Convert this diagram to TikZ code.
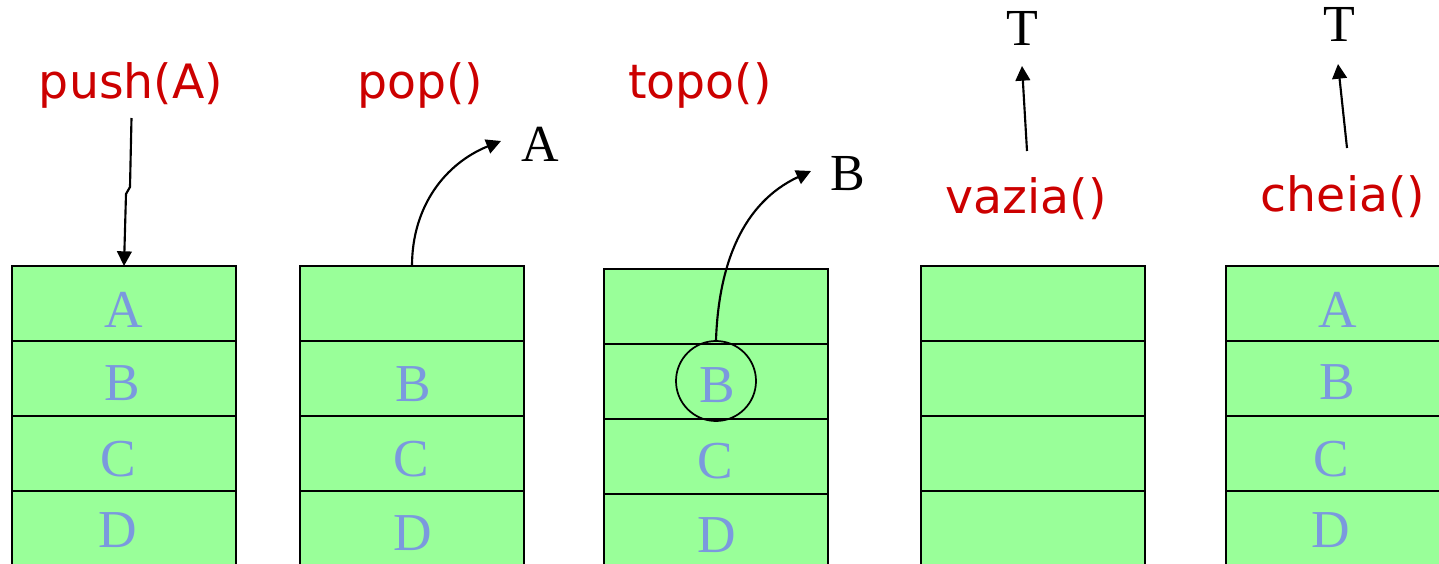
\documentclass[tikz,border=0pt]{standalone}
\usepackage{fontspec}
\setmainfont{Liberation Serif}
\newfontfamily\opfont{DejaVu Sans}
\usetikzlibrary{arrows.meta}
\definecolor{cellgreen}{RGB}{153,255,153}
\definecolor{valblue}{RGB}{123,153,222}
\definecolor{opred}{RGB}{204,0,0}
\begin{document}
\begin{tikzpicture}[x=0.75pt,y=-0.75pt,
  cell/.style={draw=black,fill=cellgreen,line width=1.6pt,minimum width=168pt,minimum height=56.25pt,inner sep=0pt,outer sep=0pt},
  val/.style={text=valblue,font=\fontsize{40}{40}\selectfont,inner sep=0pt,anchor=base},
  op/.style={text=opred,font=\opfont\fontsize{35.5}{35.5}\selectfont,inner sep=0pt,anchor=base},
  res/.style={text=black,font=\fontsize{39}{39}\selectfont,inner sep=0pt,anchor=base},
  arr/.style={draw=black,line width=1.6pt,-{Triangle[length=11pt,width=11pt]}}]
\useasboundingbox (0,0) rectangle (1439,564);
\clip (0,0) rectangle (1439,564);

% stack 1: push(A)
\node[cell] (s1a) at (124,303.5) {};
\node[cell] (s1b) at (124,378.5) {};
\node[cell] (s1c) at (124,453.5) {};
\node[cell] (s1d) at (124,528.5) {};
\node[val] (v1a) at (124,327) {A};
\node[val] (v1b) at (122,400) {B};
\node[val] (v1c) at (118,476) {C};
\node[val] (v1d) at (118,547) {D};
\node[op] (push) at (131,98) {push(A)};
\coordinate (pushstart) at (131.5,118);
\draw[arr] (pushstart) -- (130,187) -- (126,194) -- (s1a.north);

% stack 2: pop()
\node[cell] (s2a) at (412,303.5) {};
\node[cell] (s2b) at (412,378.5) {};
\node[cell] (s2c) at (412,453.5) {};
\node[cell] (s2d) at (412,528.5) {};
\node[val] (v2b) at (413,401) {B};
\node[val] (v2c) at (411,476) {C};
\node[val] (v2d) at (413,550) {D};
\node[op] (pop) at (420,98) {pop()};
\node[res] (resA) at (540,161) {A};
\coordinate (popend) at (501,141);
\draw[arr] (s2a.north) to[out=90,in=202] (popend);

% stack 3: topo()
\node[cell] (s3a) at (716,306.5) {};
\node[cell] (s3b) at (716,381.5) {};
\node[cell] (s3c) at (716,456.5) {};
\node[cell] (s3d) at (716,531.5) {};
\node[val] (v3b) at (717,402) {B};
\node[val] (v3c) at (715,478) {C};
\node[val] (v3d) at (717,552) {D};
\node[draw=black,line width=1.3pt,circle,minimum size=60pt,inner sep=0pt] (ring) at (716,381) {};
\node[op] (topo) at (700,98) {topo()};
\node[res] (resB) at (848,190) {B};
\coordinate (topoend) at (811,171);
\draw[arr] (ring.north) to[out=88,in=205] (topoend);

% stack 4: vazia()
\node[cell] (s4a) at (1033,303.5) {};
\node[cell] (s4b) at (1033,378.5) {};
\node[cell] (s4c) at (1033,453.5) {};
\node[cell] (s4d) at (1033,528.5) {};
\node[op] (vazia) at (1026,213) {vazia()};
\node[res] (resT1) at (1022,45) {T};
\coordinate (vaziastart) at (1027,151);
\coordinate (vaziaend) at (1022,66);
\draw[arr] (vaziastart) -- (vaziaend);

% stack 5: cheia()
\node[cell] (s5a) at (1338,303.5) {};
\node[cell] (s5b) at (1338,378.5) {};
\node[cell] (s5c) at (1338,453.5) {};
\node[cell] (s5d) at (1338,528.5) {};
\node[val] (v5a) at (1338,327) {A};
\node[val] (v5b) at (1337,399) {B};
\node[val] (v5c) at (1331,476) {C};
\node[val] (v5d) at (1331,547) {D};
\node[op] (cheia) at (1343,211) {cheia()};
\node[res] (resT2) at (1339,41) {T};
\coordinate (cheiastart) at (1347,148);
\coordinate (cheiaend) at (1338,64);
\draw[arr] (cheiastart) -- (cheiaend);
\end{tikzpicture}
\end{document}
